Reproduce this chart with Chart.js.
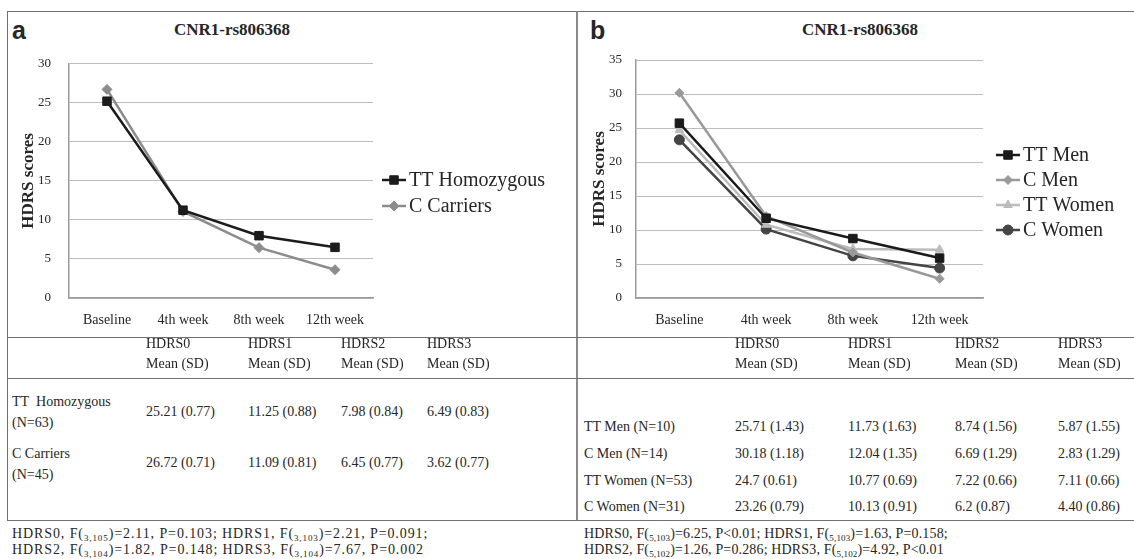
<!DOCTYPE html>
<html>
<head>
<meta charset="utf-8">
<script src="https://cdn.jsdelivr.net/npm/chart.js@4.4.1/dist/chart.umd.min.js"></script>
<style>
  body { margin: 0; background: #fff; font-family: 'Liberation Serif', 'Times New Roman', serif; color: #262626; }
  #page { position: relative; width: 1134px; height: 559px; overflow: hidden; }
  .hl { position: absolute; height: 1px; background: #707070; }
  .vl { position: absolute; width: 1px; background: #707070; }
  .t { position: absolute; font-size: 14px; white-space: nowrap; }
  .title { position: absolute; font-weight: bold; font-size: 17px; transform: translateX(-50%); }
  .letter { position: absolute; font-family: 'Liberation Sans', Arial, sans-serif; font-weight: bold; font-size: 25px; line-height: 25px; }
  canvas { position: absolute; }
  .note { position: absolute; font-size: 14px; line-height: 16px; white-space: nowrap; }
  sub { font-size: 9px; vertical-align: -3px; line-height: 0; }
</style>
</head>
<body>
<div id="page">
  <div class="hl" style="left:7px; top:11px; width:1127px;"></div>
  <div class="vl" style="left:7px; top:11px; height:510px;"></div>
  <div class="vl" style="left:576px; top:11px; height:510px; width:2px; background:#8a8a8a;"></div>
  <div class="hl" style="left:7px; top:337px; width:1127px;"></div>
  <div class="hl" style="left:7px; top:378px; width:1127px;"></div>
  <div class="hl" style="left:7px; top:520px; width:1127px;"></div>

  <div class="letter" style="left:12px; top:18px;">a</div>
  <div class="letter" style="left:590px; top:18px;">b</div>
  <div class="title" style="left:232px; top:20px;">CNR1-rs806368</div>
  <div class="title" style="left:860px; top:20px;">CNR1-rs806368</div>

  <canvas id="chartA" width="569" height="300" style="left:7px; top:38px;"></canvas>
  <canvas id="chartB" width="556" height="300" style="left:578px; top:38px;"></canvas>
</div>

<script>
// chart data
const weeks = ['Baseline', '4th week', '8th week', '12th week'];

const ttHomozygous = [25.21, 11.25, 7.98, 6.49];
const cCarriers = [26.72, 11.09, 6.45, 3.62];

const ttMen = [25.71, 11.73, 8.74, 5.87];
const cMen = [30.18, 12.04, 6.69, 2.83];
const ttWomen = [24.7, 10.77, 7.22, 7.11];
const cWomen = [23.26, 10.13, 6.2, 4.40];

// table text
const headCols = ['HDRS0', 'HDRS1', 'HDRS2', 'HDRS3'];
const rowsA = ['TT&nbsp; Homozygous<br>(N=63)', 'C Carriers<br>(N=45)'];
const cellsA = [
    ['25.21 (0.77)', '11.25 (0.88)', '7.98 (0.84)', '6.49 (0.83)'],
    ['26.72 (0.71)', '11.09 (0.81)', '6.45 (0.77)', '3.62 (0.77)']
];
const rowsB = ['TT Men (N=10)', 'C Men (N=14)', 'TT Women (N=53)', 'C Women (N=31)'];
const cellsB = [
    ['25.71 (1.43)', '11.73 (1.63)', '8.74 (1.56)', '5.87 (1.55)'],
    ['30.18 (1.18)', '12.04 (1.35)', '6.69 (1.29)', '2.83 (1.29)'],
    ['24.7 (0.61)', '10.77 (0.69)', '7.22 (0.66)', '7.11 (0.66)'],
    ['23.26 (0.79)', '10.13 (0.91)', '6.2 (0.87)', '4.40 (0.86)']
];
const notesA = [
    'HDRS0, F(<sub>3,105</sub>)=2.11, P=0.103; HDRS1, F(<sub>3,103</sub>)=2.21, P=0.091;',
    'HDRS2, F(<sub>3,104</sub>)=1.82, P=0.148; HDRS3, F(<sub>3,104</sub>)=7.67, P=0.002'
];
const notesB = [
    'HDRS0, F(<sub>5,103</sub>)=6.25, P&lt;0.01; HDRS1, F(<sub>5,103</sub>)=1.63, P=0.158;',
    'HDRS2, F(<sub>5,102</sub>)=1.26, P=0.286; HDRS3, F(<sub>5,102</sub>)=4.92, P&lt;0.01'
];

const page = document.getElementById('page');

function addText(cls, html, left, top, extra) {
    const d = document.createElement('div');
    d.className = cls;
    d.innerHTML = html;
    d.style.left = left + 'px';
    d.style.top = top + 'px';
    if (extra) Object.assign(d.style, extra);
    page.appendChild(d);
}

// tables
const colA = [146, 248, 341, 427];
const colB = [735, 848, 955, 1058];
headCols.forEach((h, i) => {
    addText('t', h + '<br>Mean (SD)', colA[i], 334, { lineHeight: '20px' });
    addText('t', h + '<br>Mean (SD)', colB[i], 334, { lineHeight: '20px' });
});

const rowLabelTopA = [391, 443];
const rowValTopA = [404, 455];
rowsA.forEach((r, j) => {
    addText('t', r, 12, rowLabelTopA[j], { lineHeight: '21px' });
    cellsA[j].forEach((c, i) => addText('t', c, colA[i], rowValTopA[j], { lineHeight: '16px' }));
});

const rowTopB = [419, 446, 473, 499];
rowsB.forEach((r, j) => {
    addText('t', r, 584, rowTopB[j], { lineHeight: '16px' });
    cellsB[j].forEach((c, i) => addText('t', c, colB[i], rowTopB[j], { lineHeight: '16px' }));
});

notesA.forEach((n, j) => addText('note', n, 12, 526 + j * 16, { letterSpacing: '0.9px' }));
notesB.forEach((n, j) => addText('note', n, 584, 526 + j * 16, { letterSpacing: '0.15px' }));

// legend drawn like the Excel one: short line with the marker on it
const lineLegend = {
    id: 'lineLegend',
    afterDraw(chart, args, opts) {
        const ctx = chart.ctx;
        ctx.save();
        chart.data.datasets.forEach((ds, i) => {
            const x = opts.left;
            const y = opts.top + i * opts.gap;
            ctx.strokeStyle = ds.borderColor;
            ctx.lineWidth = 2.5;
            ctx.beginPath();
            ctx.moveTo(x, y);
            ctx.lineTo(x + 24, y);
            ctx.stroke();
            ctx.fillStyle = ds.borderColor;
            ctx.lineWidth = 1;
            Chart.helpers.drawPoint(ctx, {
                pointStyle: ds.pointStyle,
                radius: ds.pointRadius,
                rotation: 0,
                borderWidth: 1
            }, x + 12, y);
            ctx.fillStyle = '#262626';
            ctx.font = '20px "Liberation Serif"';
            ctx.textBaseline = 'middle';
            ctx.textAlign = 'left';
            ctx.fillText(ds.label, x + 27, y + 1);
        });
        ctx.restore();
    }
};

function makeSeries(label, data, color, style, radius) {
    return {
        label: label,
        data: data,
        borderColor: color,
        backgroundColor: color,
        borderWidth: 2.5,
        pointStyle: style,
        pointRadius: radius,
        pointHoverRadius: radius,
        pointBorderWidth: 1,
        tension: 0
    };
}

function makeOptions(maxY, axisWidth, padRight, tickPad, legendPos) {
    return {
        responsive: false,
        animation: false,
        layout: { padding: { top: 22, right: padRight, bottom: 0, left: 0 } },
        plugins: {
            legend: { display: false },
            tooltip: { enabled: false },
            lineLegend: legendPos
        },
        scales: {
            x: {
                offset: true,
                afterFit: s => { s.height = 40; },
                grid: { display: false },
                border: { color: '#9a9a9a', width: 1.5 },
                ticks: { color: '#262626', padding: 6, font: { family: 'Liberation Serif', size: 14 } }
            },
            y: {
                min: 0,
                max: maxY,
                afterFit: s => { s.width = axisWidth; },
                grid: { color: '#bdbdbd', drawTicks: false },
                border: { color: '#9a9a9a', width: 1.5 },
                ticks: { stepSize: 5, color: '#262626', padding: tickPad, font: { family: 'Liberation Serif', size: 13 } },
                title: {
                    display: true,
                    text: 'HDRS scores',
                    color: '#262626',
                    padding: { top: 11, bottom: 0 },
                    font: { family: 'Liberation Serif', size: 17, weight: 'bold' }
                }
            }
        }
    };
}

new Chart(document.getElementById('chartA'), {
    type: 'line',
    data: {
        labels: weeks,
        datasets: [
            makeSeries('TT Homozygous', ttHomozygous, '#1c1c1c', 'rect', 6),
            makeSeries('C Carriers', cCarriers, '#8c8c8c', 'rectRot', 5)
        ]
    },
    options: makeOptions(30, 62, 203, 18, { left: 375, top: 142, gap: 26 }),
    plugins: [lineLegend]
});

new Chart(document.getElementById('chartB'), {
    type: 'line',
    data: {
        labels: weeks,
        datasets: [
            makeSeries('TT Men', ttMen, '#1a1a1a', 'rect', 6),
            makeSeries('C Men', cMen, '#999999', 'rectRot', 4.5),
            makeSeries('TT Women', ttWomen, '#bcbcbc', 'triangle', 5),
            makeSeries('C Women', cWomen, '#444444', 'circle', 5)
        ]
    },
    options: makeOptions(35, 58, 151, 14, { left: 418, top: 117, gap: 25 }),
    plugins: [lineLegend]
});
</script>
</body>
</html>
